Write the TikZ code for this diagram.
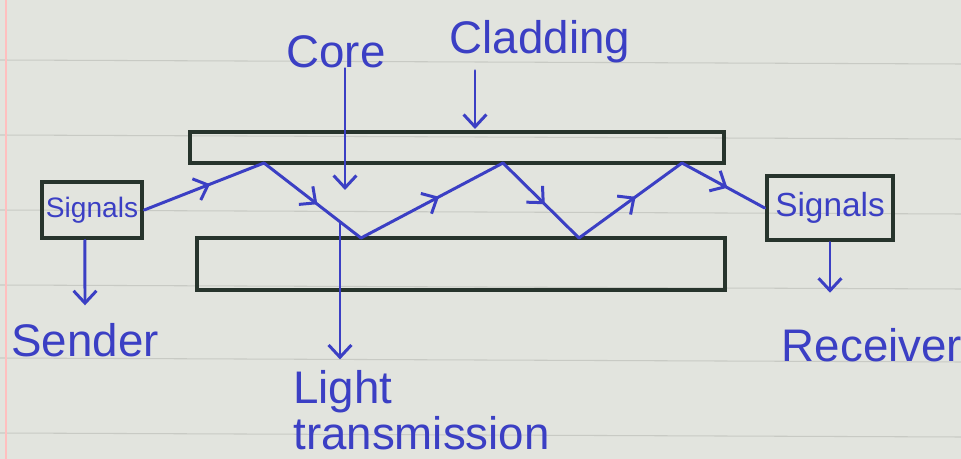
\documentclass[tikz,border=0pt]{standalone}
\usepackage{fontspec}
\setmainfont{Liberation Sans}
\usepackage{tikz}
\usetikzlibrary{arrows.meta,decorations.markings,calc}

\definecolor{paper}{HTML}{E2E4DE}
\definecolor{ruling}{HTML}{C8CAC4}
\definecolor{ink}{HTML}{3B3FC4}
\definecolor{pencil}{HTML}{27342C}

\tikzset{
  pen/.style={draw=ink, line width=1.7pt, line cap=round},
  tip/.style={-{Straight Barb[length=7pt,width=13pt]}},
  ray/.style={pen, postaction={decorate},
    decoration={markings, mark=at position 0.55 with {\arrow{Straight Barb[length=7pt,width=13pt]}}}},
  clad/.style={draw=pencil, line width=2.8pt},
  sigbox/.style={draw=pencil, line width=2.6pt, inner sep=0pt, text=ink},
  lbl/.style={text=ink, font=\fontsize{26}{26}\selectfont, inner sep=0pt},
}

\begin{document}
\begin{tikzpicture}[x=0.02cm, y=-0.02cm]
    \fill[paper] (0,0) rectangle (961,459);
    \useasboundingbox (0,0) rectangle (961,459);
    \foreach \yy in {60,135,210,285,358,433}
      \draw[ruling, line width=0.6pt] (0,\yy) -- (961,\yy+4);
    \draw[red!25, line width=0.8pt] (6,0) -- (6,459);

    % fibre: cladding and core
    \draw[clad] (190,132) rectangle (724,163);
    \draw[clad] (197,238) rectangle (725,290);

    \node[sigbox, minimum width=2cm, minimum height=1.12cm, font=\fontsize{16}{18}\selectfont] (sbox) at (92,210) {Signals};
    \node[sigbox, minimum width=2.52cm, minimum height=1.28cm, font=\fontsize{19}{20}\selectfont] (rbox) at (830,208) {Signals};

    \coordinate (t1) at (264,163);
    \coordinate (b1) at (361,238);
    \coordinate (t2) at (503,163);
    \coordinate (b2) at (579,238);
    \coordinate (t3) at (682,163);

    % light path
    \draw[ray] (sbox.east) -- (t1);
    \draw[ray] (t1) -- (b1);
    \draw[ray] (b1) -- (t2);
    \draw[ray] (t2) -- (b2);
    \draw[ray] (b2) -- (t3);
    \draw[ray] (t3) -- (rbox.west);

    % labels
    \node[lbl] (core) at (336,52) {Core};
    \node[lbl] (clg) at (540,42) {Cladding};
    \node[lbl] (sender) at (85,340) {Sender};
    \node[lbl] (recv) at (872,345) {Receiver};
    \node[lbl, align=left, anchor=north west] (light) at (293,370) {Light\\transmission};

    \coordinate (corept) at (345,190);
    \coordinate (cladin) at (475,129);
    \coordinate (lightsrc) at (340,222);

    \draw[pen,tip] (core.south -| corept) -- (corept);
    \draw[pen,tip] ([yshift=-4pt]clg.south -| cladin) -- (cladin);
    \draw[pen,tip] ([xshift=-4pt]sbox.south) -- ([yshift=10pt]sender.north);
    \draw[pen,tip] (rbox.south) -- ([yshift=20pt]recv.north -| rbox.south);
    \draw[pen,tip] (lightsrc) -- ([yshift=6pt]light.north -| lightsrc);
\end{tikzpicture}
\end{document}
